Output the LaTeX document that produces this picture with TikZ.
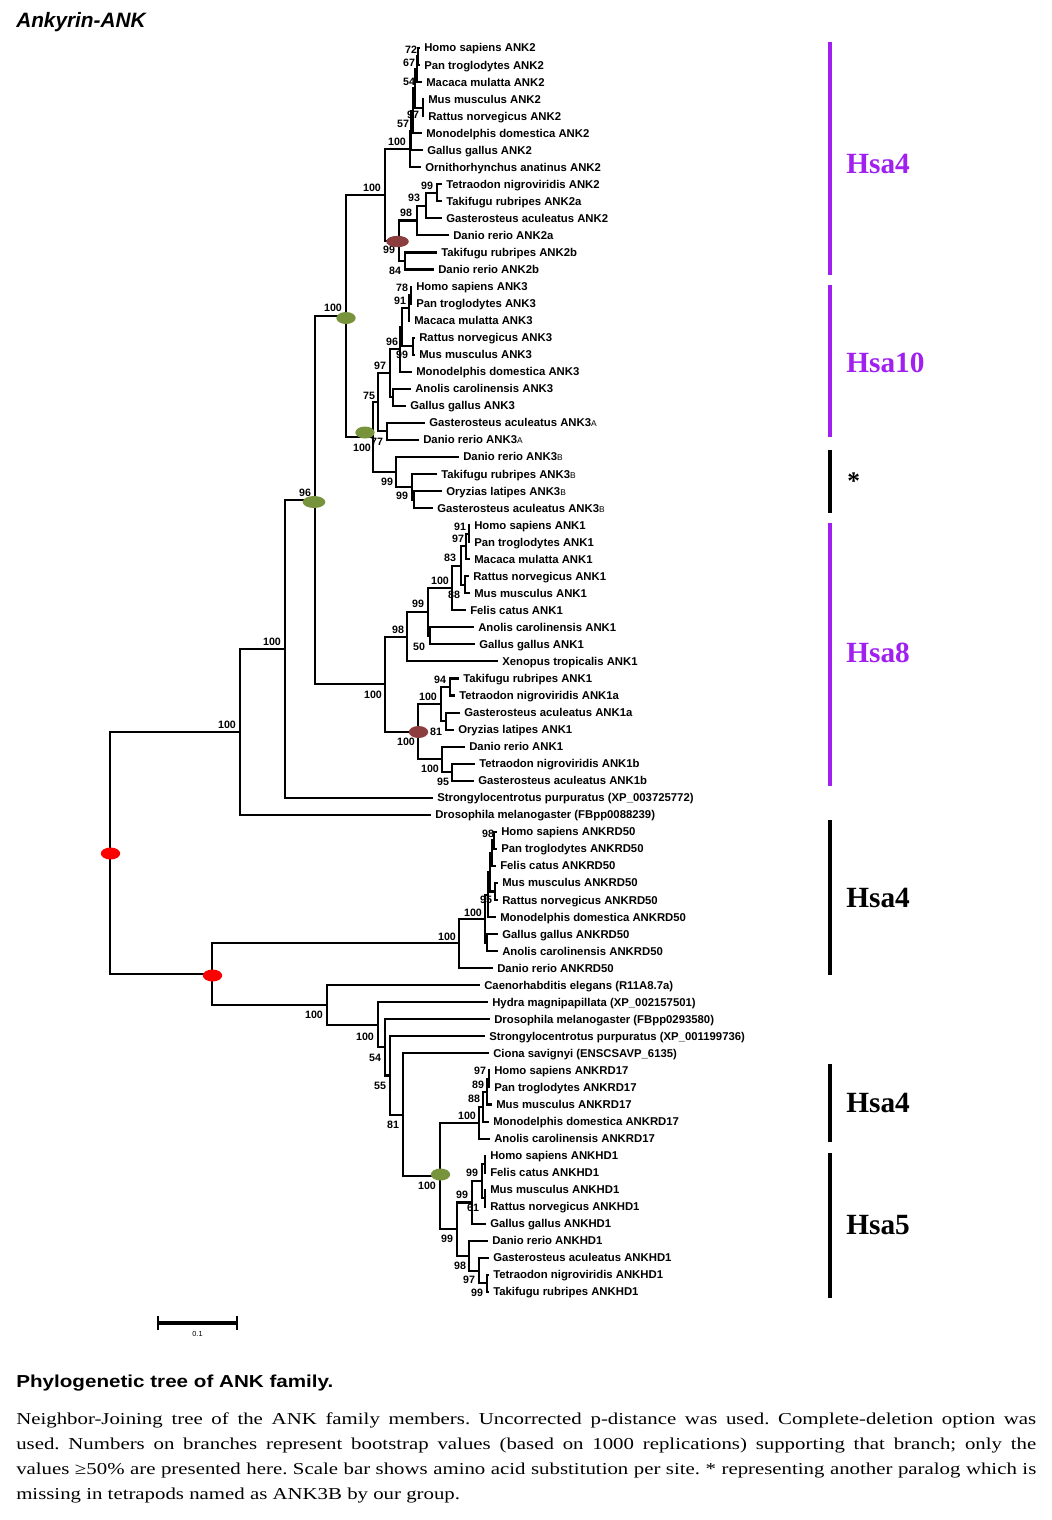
\documentclass[tikz,border=0pt]{standalone}
\usepackage{fontspec}
\setmainfont{Liberation Serif}
\setsansfont{Liberation Sans}
\newfontfamily\capserif[FakeStretch=1.25]{Liberation Serif}
\newfontfamily\capsans[FakeStretch=1.19]{Liberation Sans}
\usetikzlibrary{shapes.geometric}
\definecolor{hsapurple}{RGB}{160,32,240}
\definecolor{dotgreen}{RGB}{119,147,60}
\definecolor{dotbrown}{RGB}{140,62,62}
\newcommand\subl[1]{{\fontsize{6.3}{7}\selectfont\mdseries #1}}
\frenchspacing
\tikzset{
    brline/.style={line width=1.55pt},
    taxon/.style={anchor=west, inner xsep=3pt, inner ysep=0pt, text height=6pt, text depth=0pt,
        font=\sffamily\bfseries\fontsize{8.5}{9}\selectfont},
    bootval/.style={inner sep=0pt, text height=5.7pt, text depth=0pt,
        font=\sffamily\bfseries\fontsize{8}{9}\selectfont},
    gdot/.style={ellipse, fill=dotgreen, minimum width=14.5pt, minimum height=9pt, inner sep=0pt},
    bdot/.style={ellipse, fill=dotbrown, minimum width=14.5pt, minimum height=9pt, inner sep=0pt},
    rdot/.style={ellipse, fill=red, minimum width=14.5pt, minimum height=9pt, inner sep=0pt},
    hsabar/.style={line width=3pt, hsapurple},
    blkbar/.style={line width=3pt, black},
    hsalab/.style={anchor=base west, inner sep=0pt, font=\bfseries\fontsize{22}{24}\selectfont},
    captxt/.style={anchor=base west, inner sep=0pt, font=\capserif\fontsize{12.5}{15}\selectfont}
}

\begin{document}
\begin{tikzpicture}[x=0.75pt, y=-0.75pt]
    \useasboundingbox (0,0) rectangle (1052,1520);
    \node[anchor=base west, inner sep=0pt, font=\sffamily\bfseries\itshape\fontsize{15.6}{18}\selectfont] (title) at (16,27.3) {Ankyrin-ANK};

    \foreach \tx/\tname [count=\k from 0] in {
        420/Homo sapiens ANK2, 420/Pan troglodytes ANK2, 422/Macaca mulatta ANK2, 424/Mus musculus ANK2,
        424/Rattus norvegicus ANK2, 422/Monodelphis domestica ANK2, 423/Gallus gallus ANK2,
        421/Ornithorhynchus anatinus ANK2, 442/Tetraodon nigroviridis ANK2, 442/Takifugu rubripes ANK2a,
        442/Gasterosteus aculeatus ANK2, 449/Danio rerio ANK2a, 437/Takifugu rubripes ANK2b, 434/Danio rerio ANK2b,
        412/Homo sapiens ANK3, 412/Pan troglodytes ANK3, 410/Macaca mulatta ANK3, 415/Rattus norvegicus ANK3,
        415/Mus musculus ANK3, 412/Monodelphis domestica ANK3, 411/Anolis carolinensis ANK3, 406/Gallus gallus ANK3,
        425/Gasterosteus aculeatus ANK3\subl{A}, 419/Danio rerio ANK3\subl{A}, 459/Danio rerio ANK3\subl{B},
        437/Takifugu rubripes ANK3\subl{B}, 442/Oryzias latipes ANK3\subl{B}, 433/Gasterosteus aculeatus ANK3\subl{B},
        470/Homo sapiens ANK1, 470/Pan troglodytes ANK1, 470/Macaca mulatta ANK1, 469/Rattus norvegicus ANK1,
        470/Mus musculus ANK1, 466/Felis catus ANK1, 474/Anolis carolinensis ANK1, 475/Gallus gallus ANK1,
        498/Xenopus tropicalis ANK1, 459/Takifugu rubripes ANK1, 455/Tetraodon nigroviridis ANK1a,
        460/Gasterosteus aculeatus ANK1a, 454/Oryzias latipes ANK1, 465/Danio rerio ANK1,
        475/Tetraodon nigroviridis ANK1b, 474/Gasterosteus aculeatus ANK1b,
        433/Strongylocentrotus purpuratus (XP\_003725772), 431/Drosophila melanogaster (FBpp0088239),
        497/Homo sapiens ANKRD50, 497/Pan troglodytes ANKRD50, 496/Felis catus ANKRD50, 498/Mus musculus ANKRD50,
        498/Rattus norvegicus ANKRD50, 496/Monodelphis domestica ANKRD50, 498/Gallus gallus ANKRD50,
        498/Anolis carolinensis ANKRD50, 493/Danio rerio ANKRD50,
        480/Caenorhabditis elegans (R11A8.7a), 488/Hydra magnipapillata (XP\_002157501),
        490/Drosophila melanogaster (FBpp0293580), 485/Strongylocentrotus purpuratus (XP\_001199736),
        489/Ciona savignyi (ENSCSAVP\_6135),
        490/Homo sapiens ANKRD17, 490/Pan troglodytes ANKRD17, 492/Mus musculus ANKRD17,
        489/Monodelphis domestica ANKRD17, 490/Anolis carolinensis ANKRD17,
        486/Homo sapiens ANKHD1, 486/Felis catus ANKHD1, 486/Mus musculus ANKHD1, 486/Rattus norvegicus ANKHD1,
        486/Gallus gallus ANKHD1, 488/Danio rerio ANKHD1, 489/Gasterosteus aculeatus ANKHD1,
        489/Tetraodon nigroviridis ANKHD1, 489/Takifugu rubripes ANKHD1}
        \node[taxon] (t\k) at (\tx,{48+17.04*\k}) {\tname};

    \coordinate (a2hp) at (418,56.52);
    \coordinate (a2hpm) at (417,69.30);
    \coordinate (a2mr) at (423,107.64);
    \coordinate (a2eu) at (415,88.47);
    \coordinate (a2th) at (413,110.84);
    \coordinate (a2tg) at (411,130.54);
    \coordinate (a2am) at (410,148.91);
    \coordinate (a2tt) at (437,192.84);
    \coordinate (a2g) at (426,205.62);
    \coordinate (a2d) at (417,220.53);
    \coordinate (a2b) at (405,261.00);
    \coordinate (a2f) at (399,240.77);
    \coordinate (a2) at (385,194.84);
    \coordinate (a3hp) at (411,295.08);
    \coordinate (a3pm) at (409,307.86);
    \coordinate (a3rm) at (413,346.20);
    \coordinate (a3eu) at (402,327.03);
    \coordinate (a3th) at (400,349.40);
    \coordinate (a3ag) at (393,397.32);
    \coordinate (a3te) at (390,373.36);
    \coordinate (a3a) at (387,431.40);
    \coordinate (a3v) at (378,402.38);
    \coordinate (a3og) at (414,499.56);
    \coordinate (a3tog) at (412,486.78);
    \coordinate (a3b) at (396,471.87);
    \coordinate (a3) at (373,437.13);
    \coordinate (a23) at (346,315.98);
    \coordinate (a1hp) at (469,533.64);
    \coordinate (a1pm) at (466,546.42);
    \coordinate (a1rm) at (465,584.76);
    \coordinate (a1eu) at (461,565.59);
    \coordinate (a1ef) at (452,587.96);
    \coordinate (a1ag) at (430,635.88);
    \coordinate (a1t) at (428,611.92);
    \coordinate (a1te) at (407,636.68);
    \coordinate (a1tt) at (450,687.00);
    \coordinate (a1go) at (446,721.08);
    \coordinate (a1fa) at (441,704.04);
    \coordinate (a1tg) at (452,772.20);
    \coordinate (a1fb) at (442,759.42);
    \coordinate (a1f) at (418,731.73);
    \coordinate (a1) at (385,684.21);
    \coordinate (av) at (315,500.10);
    \coordinate (au) at (285,648.93);
    \coordinate (ab) at (240,731.87);
    \coordinate (r5hp) at (494,840.36);
    \coordinate (r5hf) at (492,853.14);
    \coordinate (r5mr) at (495,891.48);
    \coordinate (r5e) at (490,872.31);
    \coordinate (r5m) at (488,894.68);
    \coordinate (r5ga) at (487,942.60);
    \coordinate (r5t) at (485,918.64);
    \coordinate (r5) at (459,943.40);
    \coordinate (r17hp) at (489,1078.92);
    \coordinate (r17hpm) at (487,1091.70);
    \coordinate (r17m) at (483,1106.61);
    \coordinate (r17) at (479,1122.59);
    \coordinate (hdhf) at (485,1164.12);
    \coordinate (hdmr) at (485,1198.20);
    \coordinate (hdm) at (482,1181.16);
    \coordinate (hdt) at (472,1202.46);
    \coordinate (hdtt) at (487,1283.40);
    \coordinate (hdg) at (479,1270.62);
    \coordinate (hdd) at (469,1255.71);
    \coordinate (hd) at (457,1229.09);
    \coordinate (rv) at (440,1175.84);
    \coordinate (rw) at (403,1114.60);
    \coordinate (rz) at (390,1075.46);
    \coordinate (ry) at (385,1047.37);
    \coordinate (rx) at (378,1024.80);
    \coordinate (rc) at (327,1005.00);
    \coordinate (rl) at (212,974.20);
    \coordinate (root) at (110,853.04);

    \foreach \p/\ca/\cb in {
        a2hp/t0.west/t1.west, a2hpm/a2hp/t2.west, a2mr/t3.west/t4.west, a2eu/a2hpm/a2mr,
        a2th/a2eu/t5.west, a2tg/a2th/t6.west, a2am/a2tg/t7.west, a2tt/t8.west/t9.west,
        a2g/a2tt/t10.west, a2d/a2g/t11.west, a2b/t12.west/t13.west, a2f/a2d/a2b, a2/a2am/a2f,
        a3hp/t14.west/t15.west, a3pm/a3hp/t16.west, a3rm/t17.west/t18.west, a3eu/a3pm/a3rm,
        a3th/a3eu/t19.west, a3ag/t20.west/t21.west, a3te/a3th/a3ag, a3a/t22.west/t23.west,
        a3v/a3te/a3a, a3og/t26.west/t27.west, a3tog/t25.west/a3og, a3b/t24.west/a3tog,
        a3/a3v/a3b, a23/a2/a3,
        a1hp/t28.west/t29.west, a1pm/a1hp/t30.west, a1rm/t31.west/t32.west, a1eu/a1pm/a1rm,
        a1ef/a1eu/t33.west, a1ag/t34.west/t35.west, a1t/a1ef/a1ag, a1te/a1t/t36.west,
        a1tt/t37.west/t38.west, a1go/t39.west/t40.west, a1fa/a1tt/a1go, a1tg/t42.west/t43.west,
        a1fb/t41.west/a1tg, a1f/a1fa/a1fb, a1/a1te/a1f,
        av/a23/a1, au/av/t44.west, ab/au/t45.west,
        r5hp/t46.west/t47.west, r5hf/r5hp/t48.west, r5mr/t49.west/t50.west, r5e/r5hf/r5mr,
        r5m/r5e/t51.west, r5ga/t52.west/t53.west, r5t/r5m/r5ga, r5/r5t/t54.west,
        r17hp/t60.west/t61.west, r17hpm/r17hp/t62.west, r17m/r17hpm/t63.west, r17/r17m/t64.west,
        hdhf/t65.west/t66.west, hdmr/t67.west/t68.west, hdm/hdhf/hdmr, hdt/hdm/t69.west,
        hdtt/t72.west/t73.west, hdg/t71.west/hdtt, hdd/t70.west/hdg, hd/hdt/hdd,
        rv/r17/hd, rw/t59.west/rv, rz/t58.west/rw, ry/t57.west/rz, rx/t56.west/ry,
        rc/t55.west/rx, rl/r5/rc, root/ab/rl}
        \draw[brline] (\p) |- (\ca) (\p) |- (\cb);

    \foreach \bx/\by/\bv [count=\j] in {
        411/50/72, 409/63/67, 409/82/54, 413/115/97, 403/124/57, 397/142/100, 372/188/100,
        427/186/99, 414/198/93, 406/213/98, 389/250/99, 395/271/84,
        333/308/100, 402/288/78, 400/301/91, 392/342/96, 402/355/99, 380/366/97, 369/396/75,
        362/448/100, 377/442/77, 387/482/99, 402/496/99, 305/493/96,
        460/527/91, 458/539/97, 450/558/83, 440/581/100, 454/595/88, 418/604/99, 398/630/98,
        419/647/50, 440/680/94, 428/697/100, 436/732/81, 406/742/100, 373/695/100, 430/769/100,
        443/782/95, 272/642/100, 227/725/100,
        488/834/98, 486/900/95, 473/913/100, 447/937/100,
        314/1015/100, 365/1037/100, 375/1058/54, 380/1086/55, 393/1125/81,
        480/1071/97, 478/1085/89, 474/1099/88, 467/1116/100,
        427/1186/100, 472/1173/99, 462/1195/99, 473/1208/61, 447/1239/99, 460/1266/98,
        469/1280/97, 477/1293/99}
        \node[bootval] (b\j) at (\bx,\by) {\bv};

    \node[gdot] (g1) at (346,318) {};
    \node[gdot] (g2) at (365,432.5) {};
    \node[gdot, minimum width=17pt] (g3) at (314,502) {};
    \node[gdot] (g4) at (440.5,1174.5) {};
    \node[bdot, minimum width=17pt, minimum height=8.5pt] (m1) at (397.5,241.5) {};
    \node[bdot] (m2) at (418.5,732) {};
    \node[rdot] (r1) at (110.5,853.5) {};
    \node[rdot] (r2) at (212.5,975.5) {};

    \draw[hsabar] (829.5,42) -- (829.5,275);
    \draw[hsabar] (829.5,285) -- (829.5,437);
    \draw[blkbar] (829.5,450) -- (829.5,513);
    \draw[hsabar] (829.5,523) -- (829.5,786);
    \draw[blkbar] (829.5,820) -- (829.5,975);
    \draw[blkbar] (829.5,1064) -- (829.5,1142);
    \draw[blkbar] (829.5,1153) -- (829.5,1298);
    \node[hsalab, hsapurple] (h1) at (846,173) {Hsa4};
    \node[hsalab, hsapurple] (h2) at (846,372) {Hsa10};
    \node[hsalab, font=\bfseries\fontsize{19}{20}\selectfont] (h3) at (847,489) {*};
    \node[hsalab, hsapurple] (h4) at (846,662) {Hsa8};
    \node[hsalab] (h5) at (846,907) {Hsa4};
    \node[hsalab] (h6) at (846,1112) {Hsa4};
    \node[hsalab] (h7) at (846,1234) {Hsa5};

    \coordinate (sb0) at (158,1323);
    \coordinate (sb1) at (237,1323);
    \draw[line width=2.4pt] (sb0) -- (sb1);
    \draw[line width=1.5pt] (158,1316) -- (158,1330) (237,1316) -- (237,1330);
    \node[inner sep=0pt, font=\sffamily\fontsize{5.5}{6}\selectfont] (sbl) at (197.5,1334) {0.1};

    \node[anchor=base west, inner sep=0pt, font=\capsans\bfseries\fontsize{13}{15}\selectfont] (cap0) at (16,1387) {Phylogenetic tree of ANK family.};
    \node[captxt] (cap1) at (16,1424.5) {\makebox[765pt][s]{Neighbor-Joining tree of the ANK family members. Uncorrected p-distance was used. Complete-deletion option was}};
    \node[captxt] (cap2) at (16,1449.5) {\makebox[765pt][s]{used. Numbers on branches represent bootstrap values (based on 1000 replications) supporting that branch; only the}};
    \node[captxt] (cap3) at (16,1474.5) {\makebox[765pt][s]{values ≥50\% are presented here. Scale bar shows amino acid substitution per site. * representing another paralog which is}};
    \node[captxt] (cap4) at (16,1499.5) {missing in tetrapods named as ANK3B by our group.};
\end{tikzpicture}
\end{document}
